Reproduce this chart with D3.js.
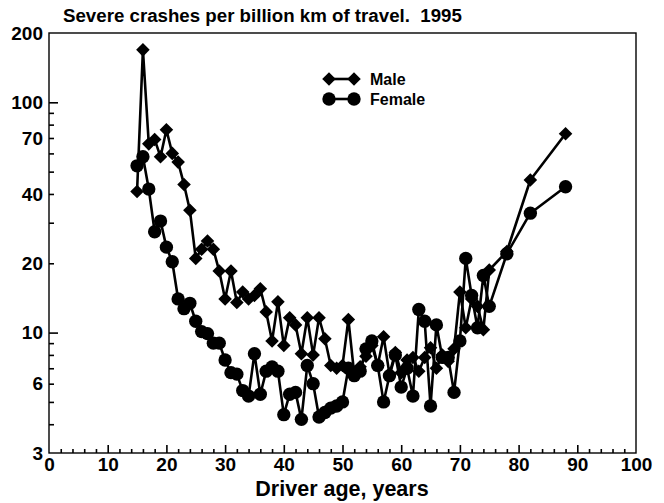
<!DOCTYPE html>
<html>
<head>
<meta charset="utf-8">
<script src="https://cdn.jsdelivr.net/npm/d3@7"></script>
<style>
  body { margin: 0; background: #fff; }
  svg text { font-family: "Liberation Sans", Arial, sans-serif; font-weight: bold; fill: #000; }
</style>
</head>
<body>
<div id="chart"></div>
<script>
// ages and rates
const maleAges = [15,16,17,18,19,20,21,22,23,24,25,26,27,28,29,30,31,32,33,34,35,36,37,38,39,40,
  41,42,43,44,45,46,47,48,49,50,51,52,53,54,55,56,57,58,59,60,61,62,63,64,65,66,67,68,69,70,
  71,72,73,74,75,78,82,88];
const maleRates = [41,169,66,69,58,76,60,55,44,34,21,23,25,23,18.5,14,18.5,13.5,15,14,14.5,15.5,12.3,9.2,13.6,8.8,
  11.6,10.8,8.1,11.6,8,11.6,9.4,7.2,7,7.2,11.4,6.6,7.1,7.9,8.8,7.2,9.6,6.6,8.2,6.7,7.6,7.8,6.8,7.8,8.6,7,8,7.5,8.5,15,
  10.5,14,13,10.3,18.7,22.5,46,73];

const femaleAges = [15,16,17,18,19,20,21,22,23,24,25,26,27,28,29,30,31,32,33,34,35,36,37,38,39,40,
  41,42,43,44,45,46,47,48,49,50,51,52,53,54,55,56,57,58,59,60,61,62,63,64,65,66,67,68,69,70,
  71,72,73,74,75,78,82,88];
const femaleRates = [53,58,42,27.4,30.5,23.5,20.3,14,12.7,13.4,11.2,10.1,9.9,9,9,7.6,6.7,6.6,5.6,5.3,8.1,5.4,6.8,7.1,6.8,4.4,
  5.4,5.5,4.2,7.2,6,4.3,4.5,4.7,4.8,5,7,6.5,6.8,8.5,9.2,7.2,5,6.5,8,5.8,7,5.3,12.6,11.2,4.8,10.8,7.8,7.8,5.5,9.2,
  21,14.5,10.5,17.7,13,22,33,43];

const xTickLabels = [0,10,20,30,40,50,60,70,80,90,100];
const yTickLabels = [200,100,70,40,20,10,6,3];
const yMajorTicks = [100,10];
const yMinorTicks = [90,80,70,60,50,40,30,20,9,8,7,6,5,4];

const male = maleAges.map((a, i) => ({ age: a, rate: maleRates[i] }));
const female = femaleAges.map((a, i) => ({ age: a, rate: femaleRates[i] }));

const W = 664, H = 503;
const plotL = 49, plotR = 636, plotT = 33, plotB = 453;

const svg = d3.select("#chart").append("svg")
  .attr("width", W).attr("height", H);

const x = d3.scaleLinear().domain([0, 100]).range([plotL, plotR]);
const y = d3.scaleLog().domain([3, 200]).range([plotB, plotT]);

// frame
svg.append("rect")
  .attr("x", plotL).attr("y", plotT)
  .attr("width", plotR - plotL).attr("height", plotB - plotT)
  .attr("fill", "none").attr("stroke", "#000").attr("stroke-width", 1.4);

// x axis: major ticks every 10, minor every 2, pointing up
const xMinor = svg.append("g").attr("transform", `translate(0,${plotB})`)
  .call(d3.axisBottom(x).tickValues(d3.range(2, 100, 2).filter(v => v % 10 !== 0))
    .tickSizeInner(-4).tickSizeOuter(0).tickFormat(""));
xMinor.select(".domain").remove();
const xMajor = svg.append("g").attr("transform", `translate(0,${plotB})`)
  .call(d3.axisBottom(x).tickValues(xTickLabels).tickSizeInner(-8).tickSizeOuter(0).tickPadding(5));
xMajor.select(".domain").remove();
xMajor.selectAll(".tick text").attr("font-size", 19).attr("dy", "0.71em")
  .attr("font-family", "Liberation Sans, Arial, sans-serif").attr("font-weight", "bold");
xMajor.selectAll(".tick").filter(d => d === 0 || d === 100).select("line").remove();

// y axis: ticks inside, labels outside
const yMinor = svg.append("g").attr("transform", `translate(${plotL},0)`)
  .call(d3.axisLeft(y).tickValues(yMinorTicks).tickSizeInner(-5).tickSizeOuter(0).tickFormat(""));
yMinor.select(".domain").remove();
const yMaj = svg.append("g").attr("transform", `translate(${plotL},0)`)
  .call(d3.axisLeft(y).tickValues(yMajorTicks).tickSizeInner(-9).tickSizeOuter(0).tickFormat(""));
yMaj.select(".domain").remove();
svg.selectAll(".tick line").attr("stroke-width", 1.6);
const yLab = svg.append("g").attr("transform", `translate(${plotL},0)`)
  .call(d3.axisLeft(y).tickValues(yTickLabels).tickSize(0).tickPadding(6).tickFormat(d3.format("d")));
yLab.select(".domain").remove();
yLab.selectAll(".tick text").attr("font-size", 19)
  .attr("font-family", "Liberation Sans, Arial, sans-serif").attr("font-weight", "bold");

// title and axis label
svg.append("text")
  .attr("x", 63).attr("y", 22)
  .attr("font-size", 18.7)
  .attr("xml:space", "preserve")
  .style("white-space", "pre")
  .text("Severe crashes per billion km of travel.  1995");

svg.append("text")
  .attr("x", 342).attr("y", 496)
  .attr("text-anchor", "middle")
  .attr("font-size", 21.5)
  .text("Driver age, years");

// series
const line = d3.line().x(d => x(d.age)).y(d => y(d.rate));
const diamond = d3.symbol().type(d3.symbolSquare).size(92);
const circle = d3.symbol().type(d3.symbolCircle).size(140);

function drawSeries(data, sym, rotate) {
  const g = svg.append("g");
  g.append("path").datum(data)
    .attr("d", line)
    .attr("fill", "none").attr("stroke", "#000").attr("stroke-width", 2.6)
    .attr("stroke-linejoin", "round");
  g.selectAll("path.m").data(data).enter().append("path")
    .attr("class", "m")
    .attr("d", sym)
    .attr("fill", "#000")
    .attr("transform", d => `translate(${x(d.age)},${y(d.rate)}) rotate(${rotate})`);
}
drawSeries(female, circle, 0);
drawSeries(male, diamond, 45);

// legend
const legend = [
  { label: "Male", sym: diamond, rot: 45, yy: 79 },
  { label: "Female", sym: circle, rot: 0, yy: 99 },
];
const lg = svg.append("g");
legend.forEach(l => {
  lg.append("line").attr("x1", 329).attr("x2", 354).attr("y1", l.yy).attr("y2", l.yy)
    .attr("stroke", "#000").attr("stroke-width", 2.6);
  [329, 354].forEach(px => {
    lg.append("path").attr("d", l.sym).attr("fill", "#000")
      .attr("transform", `translate(${px},${l.yy}) rotate(${l.rot})`);
  });
  lg.append("text").attr("x", 370).attr("y", l.yy + 6).attr("font-size", 16).text(l.label);
});
</script>
</body>
</html>
